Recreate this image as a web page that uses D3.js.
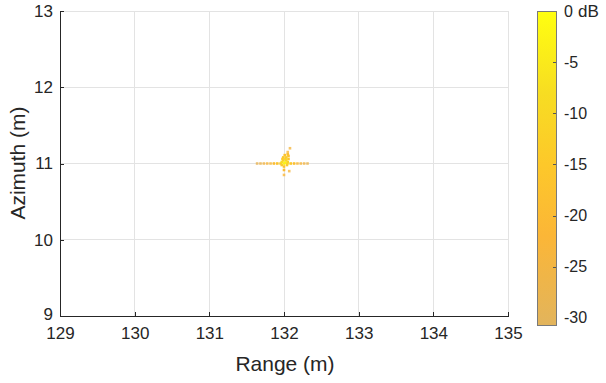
<!DOCTYPE html>
<html><head><meta charset="utf-8">
<script src="https://cdn.jsdelivr.net/npm/d3@7"></script>
<style>body{margin:0;background:#fff}svg{display:block;font-family:"Liberation Sans",Arial,sans-serif}</style>
</head><body>
<svg id="c" width="606" height="383"></svg>
<script>
// ---- data ----
const xTicks = [129, 130, 131, 132, 133, 134, 135];
const yTicks = [9, 10, 11, 12, 13];
const cbTicks = [0, -5, -10, -15, -20, -25, -30];
// point target response samples: range (m), azimuth (m), level (dB)
const rangeVals = [131.64,131.685,131.73,131.775,131.82,131.865,131.91,131.955,132.00,132.045,132.09,132.135,132.18,132.225,132.27,132.315,
  131.99,132.03,131.99,132.03,132.06,132.01,132.05,132.08,132.05,
  132.00,132.00,132.07,132.00,
  131.97,132.05,131.97,132.04,132.01,132.02,131.98,132.06];
const azimuthVals = [11.00,11.00,11.00,11.00,11.00,11.00,11.00,11.00,11.00,11.00,11.00,11.00,11.00,11.00,11.00,11.00,
  11.04,11.04,11.08,11.08,11.06,11.11,11.12,11.20,11.15,
  10.915,10.85,10.90,10.96,
  11.02,11.02,10.98,10.98,11.01,11.06,11.06,11.10];
const dbVals = [-29,-27,-25,-23,-21,-19,-17,-13,-5,-11,-15,-18,-21,-23,-25,-28,
  -12,-10,-15,-13,-16,-17,-19,-24,-22,
  -20,-22,-24,-16,
  -9,-11,-14,-14,-3,-13,-15,-18];
const cStops = [0, -8, -15, -22, -30.7];
const cColors = ["#ffff10", "#f7dd22", "#fdc82a", "#fbb637", "#e2b45c"];

// ---- layout ----
const svg = d3.select("#c");
const L = 60, R = 508, T = 11, B = 316;
const x = d3.scaleLinear().domain([129, 135]).range([L, R]);
const y = d3.scaleLinear().domain([9, 13]).range([B, T]);
const color = d3.scaleLinear().domain(cStops).range(cColors).clamp(true);
const axisCol = "#262626";
const fmt = d => String(d).replace("\u2212", "-");

// grid
const g = svg.append("g");
g.selectAll(".gx").data(xTicks).join("line")
  .attr("x1", d => x(d)).attr("x2", d => x(d)).attr("y1", T).attr("y2", B)
  .attr("stroke", "#e3e3e3").attr("stroke-width", 1).attr("shape-rendering", "crispEdges");
g.selectAll(".gy").data(yTicks).join("line")
  .attr("y1", d => y(d)).attr("y2", d => y(d)).attr("x1", L).attr("x2", R)
  .attr("stroke", "#e3e3e3").attr("stroke-width", 1).attr("shape-rendering", "crispEdges");

// points
const pts = rangeVals.map((r, i) => ({r, a: azimuthVals[i], db: dbVals[i]}));
pts.sort((p, q) => p.db - q.db);
svg.append("g").selectAll("rect").data(pts).join("rect")
  .attr("x", d => x(d.r) - 1.3).attr("y", d => y(d.a) - 1.3)
  .attr("width", 2.6).attr("height", 2.6)
  .attr("fill", d => color(d.db)).attr("opacity", d => d.db < -20 ? 0.8 : 1);

// axes
const xAxis = d3.axisBottom(x).tickValues(xTicks).tickSize(-4).tickPadding(10).tickFormat(fmt);
const yAxis = d3.axisLeft(y).tickValues(yTicks).tickSize(-4).tickPadding(7).tickFormat(fmt);
const gx = svg.append("g").attr("transform", `translate(0,${B})`).call(xAxis);
const gy = svg.append("g").attr("transform", `translate(${L},0)`).call(yAxis);
[gx, gy].forEach(a => {
  a.select(".domain").attr("stroke", axisCol).attr("shape-rendering", "crispEdges");
  a.selectAll(".tick line").attr("stroke", axisCol).attr("shape-rendering", "crispEdges");
  a.selectAll("text").attr("fill", axisCol).style("font-size", "17px").style("font-family", "Liberation Sans, Arial, sans-serif");
});
gx.selectAll(".tick text").attr("dy", "0.75em");
gy.selectAll(".tick").filter(d => d === 9).select("text").attr("dy", "0.2em");

// axis labels
svg.append("text").attr("x", 285).attr("y", 371).attr("text-anchor", "middle")
  .attr("fill", axisCol).style("font-size", "21px").text("Range (m)");
svg.append("text").attr("transform", "translate(25,163) rotate(-90)").attr("text-anchor", "middle")
  .attr("fill", axisCol).style("font-size", "21px").text("Azimuth (m)");

// colorbar
const cbL = 537, cbW = 19, cbT = 11, cbB = 325;
const cy = d3.scaleLinear().domain([0, -30.7]).range([cbT, cbB]);
const defs = svg.append("defs");
const grad = defs.append("linearGradient").attr("id", "cg").attr("x1", 0).attr("x2", 0).attr("y1", 0).attr("y2", 1);
cStops.forEach((s, i) => grad.append("stop")
  .attr("offset", (cy(s) - cbT) / (cbB - cbT)).attr("stop-color", cColors[i]));
svg.append("rect").attr("x", cbL).attr("y", cbT).attr("width", cbW).attr("height", cbB - cbT)
  .attr("fill", "url(#cg)").attr("stroke", "#7a7a7a").attr("stroke-width", 1).attr("shape-rendering", "crispEdges");
const cAxis = d3.axisRight(cy).tickValues(cbTicks).tickSize(-3).tickPadding(8).tickFormat(fmt);
const gc = svg.append("g").attr("transform", `translate(${cbL + cbW},0)`).call(cAxis);
gc.select(".domain").remove();
gc.selectAll(".tick line").attr("stroke", "#555").attr("shape-rendering", "crispEdges")
  .filter(d => d === 0 || d === -30).remove();
gc.selectAll("text").attr("fill", axisCol).style("font-size", "16px").style("font-family", "Liberation Sans, Arial, sans-serif");
svg.append("text").attr("x", 578).attr("y", cy(0)).attr("dy", "0.35em")
  .attr("fill", axisCol).style("font-size", "17px").text("dB");
</script>
</body></html>
